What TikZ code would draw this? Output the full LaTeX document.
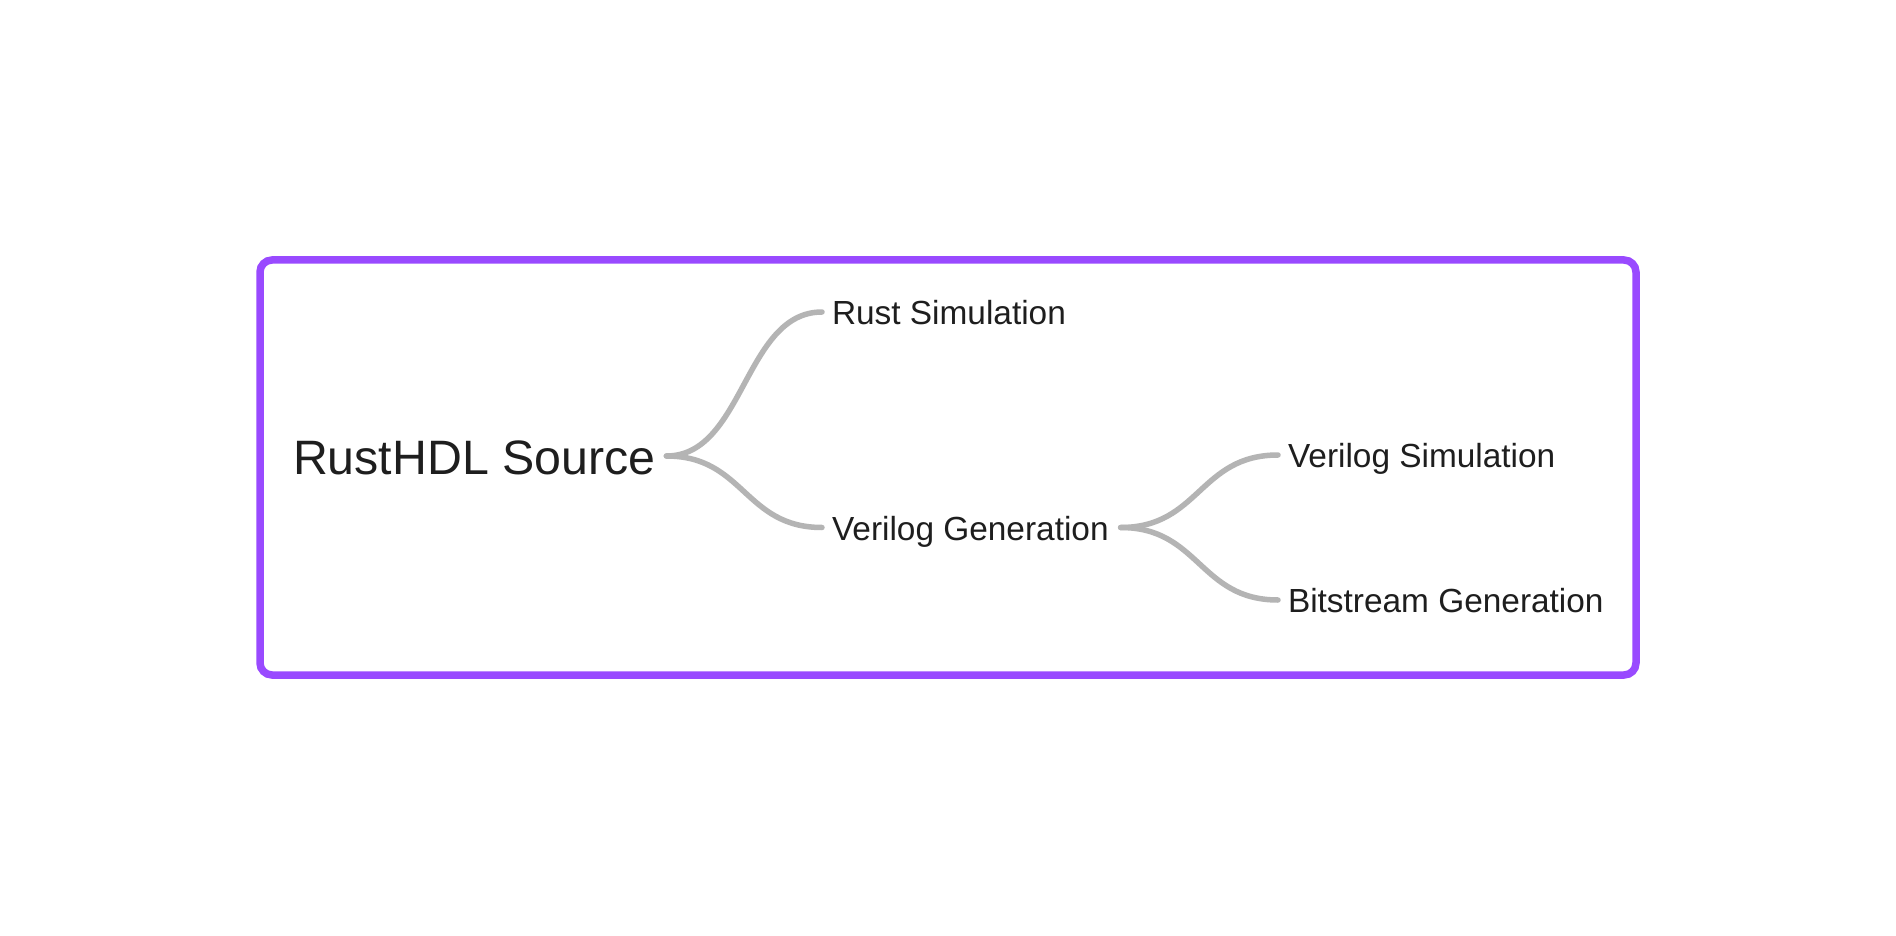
\documentclass[tikz,border=0pt]{standalone}
\usepackage{fontspec}
\setmainfont{Liberation Sans}
\usetikzlibrary{calc}
\definecolor{framecol}{RGB}{153,74,255}
\definecolor{linkcol}{RGB}{180,180,180}
\definecolor{inkcol}{RGB}{30,30,30}
\begin{document}
\begin{tikzpicture}[x=1pt,y=-1pt,
  leaf/.style={anchor=west,inner sep=0pt,outer sep=10pt,text height=25.4pt,text depth=0pt,
    font=\fontsize{33.4}{36}\selectfont,text=inkcol},
  rootnode/.style={anchor=west,inner sep=0pt,outer sep=11pt,text height=36pt,text depth=0pt,
    font=\fontsize{48.3}{52}\selectfont,text=inkcol},
  linkline/.style={draw=linkcol,line width=5.5pt,line cap=round}]
\useasboundingbox (0,0) rectangle (1896,936);
\fill[white] (0,0) rectangle (1896,936);
\draw[draw=framecol,line width=7.5pt,rounded corners=12pt] (260,260) rectangle (1636,675);
\node[rootnode] (root) at (282,456) {RustHDL Source};
\node[leaf] (rs) at (822,312) {Rust Simulation};
\node[leaf] (vg) at (822,527.5) {Verilog Generation};
\node[leaf] (vs) at (1278,455) {Verilog Simulation};
\node[leaf] (bg) at (1278,600) {Bitstream Generation};
\draw[linkline] let \p1=(root.east), \p2=(rs.west) in
  (\p1) .. controls ({(\x1+\x2)/2},\y1) and ({(\x1+\x2)/2},\y2) .. (\p2);
\draw[linkline] let \p1=(root.east), \p2=(vg.west) in
  (\p1) .. controls ({(\x1+\x2)/2},\y1) and ({(\x1+\x2)/2},\y2) .. (\p2);
\draw[linkline] let \p1=([xshift=2pt]vg.east), \p2=(vs.west) in
  (\p1) .. controls ({(\x1+\x2)/2},\y1) and ({(\x1+\x2)/2},\y2) .. (\p2);
\draw[linkline] let \p1=([xshift=2pt]vg.east), \p2=(bg.west) in
  (\p1) .. controls ({(\x1+\x2)/2},\y1) and ({(\x1+\x2)/2},\y2) .. (\p2);
\end{tikzpicture}
\end{document}
